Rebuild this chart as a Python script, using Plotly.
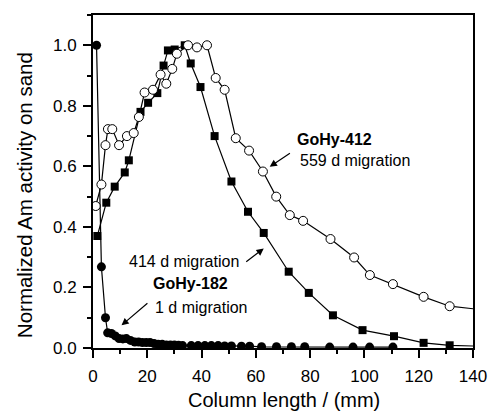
import plotly.graph_objects as go

# GoHy-182, 1 d migration (filled circles)
x_1d = [1.3, 3.1, 4.6, 5.4, 6.8, 8.2, 9.6, 11.0, 12.3, 13.8, 15.4, 16.8, 18.2, 19.6,
        21.0, 22.5, 24.0, 25.5, 27.0, 28.5, 30.0, 31.5, 33.0, 36.2, 38.7, 41.2, 43.6,
        46.1, 48.5, 51.0, 54.7, 57.7, 62.1, 67.6, 73.1, 78.0, 87.2, 95.8, 101.9, 110.5]
y_1d = [1.0, 0.268, 0.10, 0.05, 0.048, 0.04, 0.031, 0.03, 0.031, 0.025, 0.02, 0.02,
        0.018, 0.018, 0.018, 0.015, 0.012, 0.012, 0.01, 0.01, 0.01, 0.009, 0.008, 0.008,
        0.008, 0.008, 0.008, 0.008, 0.007, 0.007, 0.006, 0.006, 0.004, 0.004, 0.004,
        0.004, 0.003, 0.003, 0.003, 0.003]

# GoHy-182, 414 d migration (filled squares)
x_414d = [1.6, 4.9, 8.0, 11.7, 13.2, 17.5, 20.3, 23.7, 26.0, 27.6, 30.1, 33.8, 36.0,
          39.6, 44.8, 51.0, 57.1, 62.9, 72.1, 79.5, 88.4, 99.3, 110.9, 121.8, 131.4, 150.0]
y_414d = [0.37, 0.48, 0.533, 0.58, 0.62, 0.78, 0.81, 0.842, 0.933, 0.983, 0.986, 1.0,
          0.94, 0.862, 0.70, 0.55, 0.45, 0.38, 0.252, 0.182, 0.108, 0.059, 0.039, 0.017,
          0.009, 0.004]

# GoHy-412, 559 d migration (open circles)
x_559d = [1.0, 3.1, 4.6, 5.5, 7.1, 9.6, 12.5, 15.0, 16.9, 19.0, 22.1, 24.9, 27.0, 29.2,
          30.9, 35.0, 38.3, 42.0, 45.2, 48.5, 52.6, 57.5, 62.6, 67.5, 72.5, 77.4, 87.5,
          96.2, 102.0, 110.5, 121.8, 131.4, 150.0]
y_559d = [0.469, 0.54, 0.67, 0.723, 0.723, 0.67, 0.70, 0.71, 0.763, 0.844, 0.853, 0.903,
          0.873, 0.922, 0.972, 1.0, 0.993, 1.0, 0.892, 0.853, 0.693, 0.652, 0.583, 0.50,
          0.439, 0.42, 0.36, 0.299, 0.241, 0.211, 0.169, 0.138, 0.12]

x_ticks = [0, 20, 40, 60, 80, 100, 120, 140]
y_ticks = [0.0, 0.2, 0.4, 0.6, 0.8, 1.0]

x_title = "Column length / (mm)"
y_title = "Normalized Am activity on sand"

FONT = "Liberation Sans, Arial, sans-serif"

fig = go.Figure()
fig.add_trace(go.Scatter(
    x=x_1d, y=y_1d, mode="lines+markers",
    line=dict(color="black", width=1.2),
    marker=dict(symbol="circle", size=9, color="black", line=dict(width=0)),
    name="GoHy-182 1 d"))
fig.add_trace(go.Scatter(
    x=x_414d, y=y_414d, mode="lines+markers",
    line=dict(color="black", width=1.2),
    marker=dict(symbol="square", size=8, color="black", line=dict(width=0)),
    name="GoHy-182 414 d"))
fig.add_trace(go.Scatter(
    x=x_559d, y=y_559d, mode="lines+markers",
    line=dict(color="black", width=1.2),
    marker=dict(symbol="circle", size=9, color="white", line=dict(color="black", width=1)),
    name="GoHy-412 559 d"))

ann_font = dict(family=FONT, size=16, color="black")
annotations = [
    dict(x=88.9, y=0.69, text="<b>GoHy-412</b>", showarrow=False, font=ann_font),
    dict(x=96.7, y=0.621, text="559 d migration", showarrow=False, font=ann_font),
    dict(x=33.7, y=0.285, text="414 d migration", showarrow=False, font=ann_font),
    dict(x=36.0, y=0.213, text="<b>GoHy-182</b>", showarrow=False, font=ann_font),
    dict(x=40.1, y=0.135, text="1 d migration", showarrow=False, font=ann_font),
    # arrows
    dict(x=65.1, y=0.599, ax=73.1, ay=0.647, axref="x", ayref="y", text="",
         showarrow=True, arrowhead=2, arrowsize=1.2, arrowwidth=1.2, arrowcolor="black"),
    dict(x=62.9, y=0.329, ax=55.9, ay=0.281, axref="x", ayref="y", text="",
         showarrow=True, arrowhead=2, arrowsize=1.2, arrowwidth=1.2, arrowcolor="black"),
    dict(x=10.5, y=0.075, ax=20.6, ay=0.152, axref="x", ayref="y", text="",
         showarrow=True, arrowhead=2, arrowsize=1.2, arrowwidth=1.2, arrowcolor="black"),
    # axis titles
    dict(x=0.502, y=-0.156, xref="paper", yref="paper", text=x_title, showarrow=False,
         xanchor="center", yanchor="middle", font=dict(family=FONT, size=20, color="black")),
    dict(x=-0.1816, y=0.459, xref="paper", yref="paper", text=y_title, showarrow=False,
         textangle=-90, xanchor="center", yanchor="middle",
         font=dict(family=FONT, size=20.5, color="black")),
]

fig.update_layout(
    width=489, height=415,
    margin=dict(l=93, r=16, t=15, b=67),
    paper_bgcolor="white", plot_bgcolor="white",
    showlegend=False,
    font=dict(family=FONT, color="black"),
    annotations=annotations,
)
fig.update_xaxes(
    range=[0, 140], tickvals=x_ticks, ticktext=[str(v) for v in x_ticks],
    showgrid=False, zeroline=False, automargin=False,
    showline=True, linecolor="black", linewidth=2, mirror=True,
    ticks="outside", ticklen=8, tickwidth=1.5, tickcolor="black",
    ticklabelstandoff=4,
    minor=dict(ticks="outside", ticklen=4, tickwidth=1.5, tickcolor="black", dtick=10, tick0=0, showgrid=False),
    tickfont=dict(family=FONT, size=17),
)
fig.update_yaxes(
    range=[0, 1.1], tickvals=y_ticks, ticktext=[f"{v:.1f}" for v in y_ticks],
    showgrid=False, zeroline=False, automargin=False,
    showline=True, linecolor="black", linewidth=2, mirror=True,
    ticks="outside", ticklen=8, tickwidth=1.5, tickcolor="black",
    ticklabelstandoff=3,
    minor=dict(ticks="outside", ticklen=4, tickwidth=1.5, tickcolor="black", dtick=0.1, tick0=0, showgrid=False),
    tickfont=dict(family=FONT, size=17),
)

fig.write_html("out.html")
